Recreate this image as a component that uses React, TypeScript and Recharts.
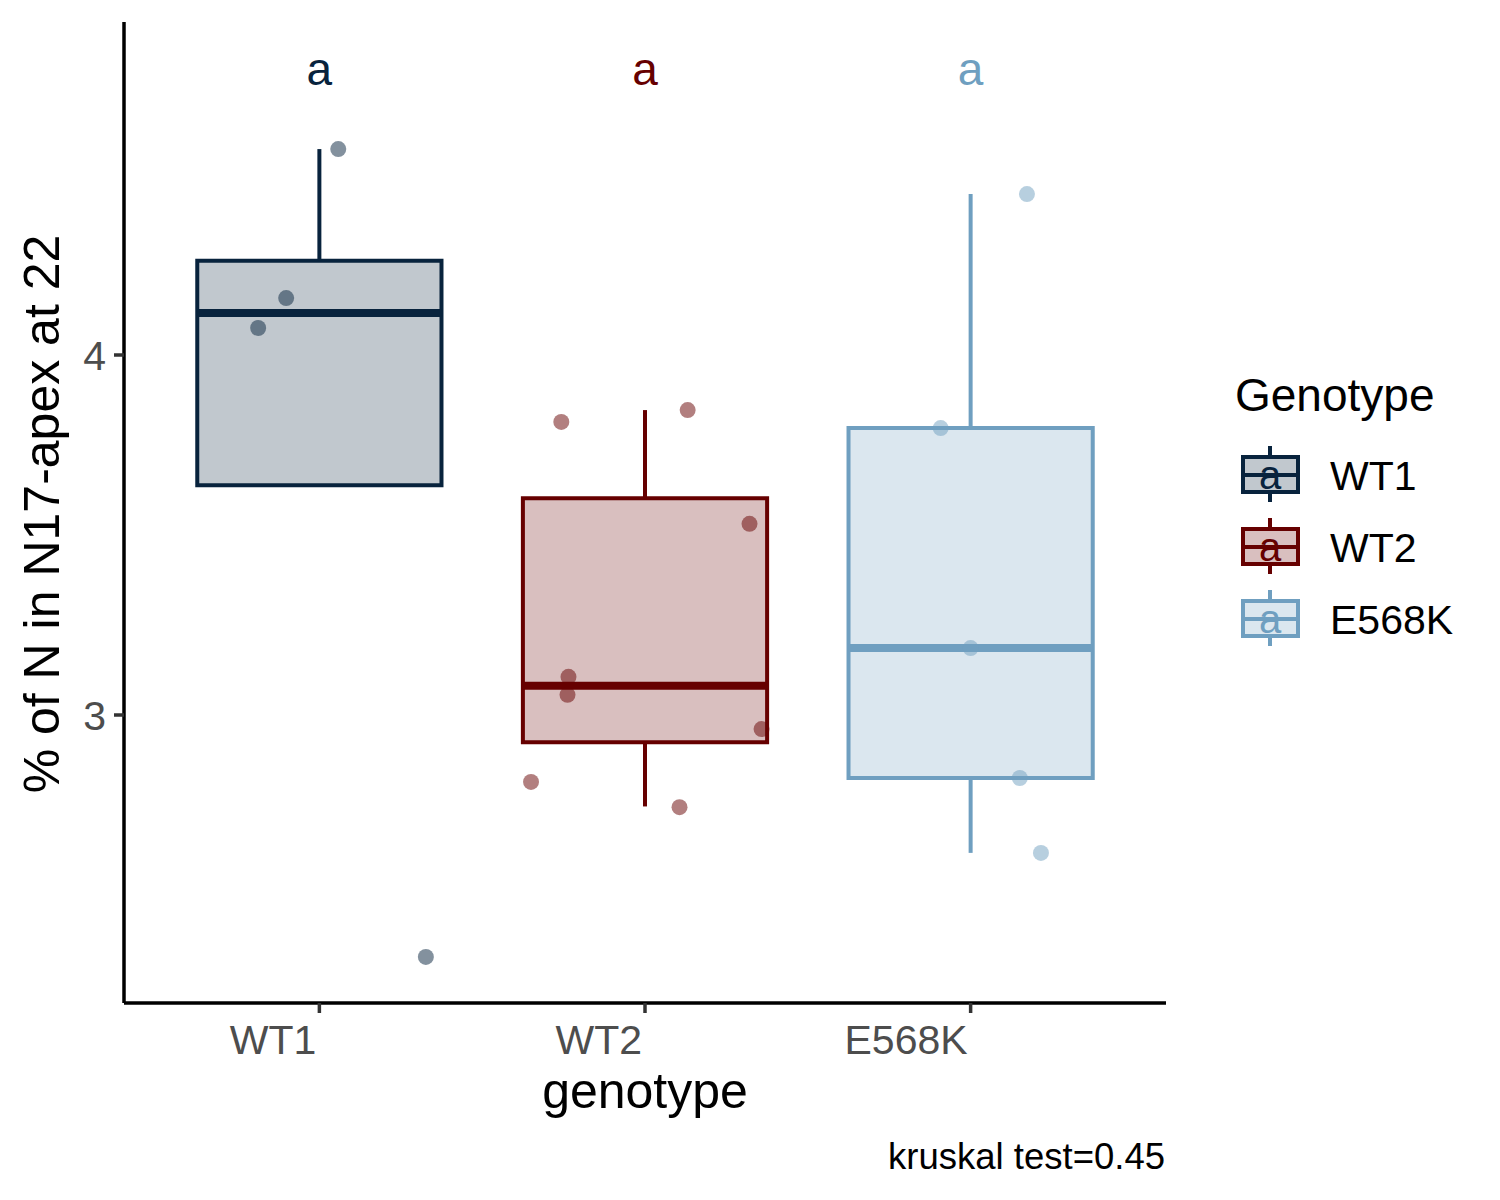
import {
  ComposedChart,
  XAxis,
  YAxis,
  Scatter,
  ReferenceArea,
  ReferenceLine,
} from 'recharts';

const genotypes = ['WT1', 'WT2', 'E568K'];
const colors = ['#08233d', '#660000', '#6f9fc0'];
const letters = ['a', 'a', 'a'];
const letterY = 4.75;

// box statistics
const boxLow = [3.638, 2.924, 2.825];
const boxMedian = [4.117, 3.081, 3.186];
const boxHigh = [4.262, 3.602, 3.797];
const whiskerLow = [3.638, 2.746, 2.617];
const whiskerHigh = [4.572, 3.847, 4.447];

// jittered observations
const wt1Values = [4.572, 4.158, 4.075, 2.328];
const wt1Jitter = [0.058, -0.102, -0.188, 0.327];
const wt2Values = [3.814, 3.847, 3.531, 3.106, 3.056, 2.961, 2.814, 2.744];
const wt2Jitter = [-0.257, 0.131, 0.321, -0.235, -0.238, 0.358, -0.35, 0.106];
const e568kValues = [4.447, 3.797, 3.186, 2.825, 2.617];
const e568kJitter = [0.173, -0.092, 0.0, 0.151, 0.216];

const yTicks = [3, 4];
const caption = 'kruskal test=0.45';

const FONT = '"Liberation Sans", Arial, Helvetica, sans-serif';
const BOX_HALF = 0.375;

const pointGroups = [
  { values: wt1Values, jitter: wt1Jitter },
  { values: wt2Values, jitter: wt2Jitter },
  { values: e568kValues, jitter: e568kJitter },
];

function XTick({ x, y, payload }: any) {
  return (
    <text
      x={x - 3}
      y={y}
      dy="0.72em"
      textAnchor="end"
      fill="#4d4d4d"
      fontSize={41}
      fontFamily={FONT}
    >
      {genotypes[payload.value - 1]}
    </text>
  );
}

function Legend() {
  return (
    <svg
      width={1500}
      height={1200}
      style={{ position: 'absolute', left: 0, top: 0, pointerEvents: 'none' }}
    >
      <text x={1235} y={411} fontSize={46} fontFamily={FONT} fill="#000">
        Genotype
      </text>
      {genotypes.map((g, i) => {
        const cy = 475 + i * 72;
        const c = colors[i];
        return (
          <g key={g}>
            <line x1={1270} x2={1270} y1={cy - 29} y2={cy + 27} stroke={c} strokeWidth={4} />
            <rect x={1243} y={cy - 18} width={55} height={35} fill="#fff" />
            <rect
              x={1243}
              y={cy - 18}
              width={55}
              height={35}
              fill={c}
              fillOpacity={0.25}
              stroke={c}
              strokeWidth={4}
            />
            <line x1={1243} x2={1298} y1={cy} y2={cy} stroke={c} strokeWidth={4} />
            <text
              x={1270}
              y={cy + 14}
              textAnchor="middle"
              fontSize={40}
              fontFamily={FONT}
              fill={c}
            >
              {letters[i]}
            </text>
            <text x={1330} y={cy + 15} fontSize={41} fontFamily={FONT} fill="#000">
              {g}
            </text>
          </g>
        );
      })}
      <text
        x={59}
        y={514}
        transform="rotate(-90 59 514)"
        textAnchor="middle"
        fontSize={50}
        fontFamily={FONT}
        fill="#000"
      >
        % of N in N17-apex at 22
      </text>
      <text x={645} y={1108} textAnchor="middle" fontSize={50} fontFamily={FONT} fill="#000">
        genotype
      </text>
      <text x={1165} y={1169} textAnchor="end" fontSize={36.5} fontFamily={FONT} fill="#000">
        {caption}
      </text>
    </svg>
  );
}

export default function App() {
  return (
    <div
      style={{
        position: 'absolute',
        left: 0,
        top: 0,
        width: 1500,
        height: 1200,
        background: '#fff',
        fontFamily: FONT,
      }}
    >
      <ComposedChart
        width={1500}
        height={1200}
        margin={{ top: 22, right: 334, bottom: 137, left: 0 }}
      >
        <XAxis
          type="number"
          dataKey="x"
          domain={[0.4, 3.6]}
          ticks={[1, 2, 3]}
          allowDataOverflow
          height={60}
          tick={<XTick />}
          tickSize={10}
          tickMargin={11}
          axisLine={{ stroke: '#000', strokeWidth: 3.5 }}
          tickLine={{ stroke: '#333', strokeWidth: 3.5 }}
        />
        <YAxis
          type="number"
          dataKey="y"
          domain={[2.2, 4.925]}
          ticks={yTicks}
          allowDataOverflow
          width={124}
          tickSize={10}
          tickMargin={8}
          tick={{ fill: '#4d4d4d', fontSize: 41, fontFamily: FONT }}
          axisLine={{ stroke: '#000', strokeWidth: 3.5 }}
          tickLine={{ stroke: '#333', strokeWidth: 3.5 }}
        />
        {genotypes.map((g, i) => (
          <ReferenceLine
            key={`wh-${g}`}
            segment={[
              { x: i + 1, y: boxHigh[i] },
              { x: i + 1, y: whiskerHigh[i] },
            ]}
            stroke={colors[i]}
            strokeWidth={4}
          />
        ))}
        {genotypes.map((g, i) => (
          <ReferenceLine
            key={`wl-${g}`}
            segment={[
              { x: i + 1, y: whiskerLow[i] },
              { x: i + 1, y: boxLow[i] },
            ]}
            stroke={colors[i]}
            strokeWidth={4}
          />
        ))}
        {genotypes.map((g, i) => (
          <ReferenceArea
            key={`box-${g}`}
            x1={i + 1 - BOX_HALF}
            x2={i + 1 + BOX_HALF}
            y1={boxLow[i]}
            y2={boxHigh[i]}
            fill={colors[i]}
            fillOpacity={0.25}
            stroke={colors[i]}
            strokeOpacity={1}
            strokeWidth={4}
          />
        ))}
        {genotypes.map((g, i) => (
          <ReferenceLine
            key={`med-${g}`}
            segment={[
              { x: i + 1 - BOX_HALF, y: boxMedian[i] },
              { x: i + 1 + BOX_HALF, y: boxMedian[i] },
            ]}
            stroke={colors[i]}
            strokeWidth={8}
          />
        ))}
        {pointGroups.map((grp, i) => (
          <Scatter
            key={`pts-${genotypes[i]}`}
            data={grp.values.map((v, k) => ({ x: i + 1 + grp.jitter[k], y: v }))}
            isAnimationActive={false}
            shape={(p: any) => (
              <circle cx={p.cx} cy={p.cy} r={8} fill={colors[i]} fillOpacity={0.5} />
            )}
          />
        ))}
        <Scatter
          data={genotypes.map((g, i) => ({ x: i + 1, y: letterY, i }))}
          isAnimationActive={false}
          shape={(p: any) => (
            <text
              x={p.cx}
              y={p.cy}
              textAnchor="middle"
              fontSize={46}
              fontFamily={FONT}
              fill={colors[p.payload?.i ?? p.i ?? 0]}
            >
              {letters[p.payload?.i ?? p.i ?? 0]}
            </text>
          )}
        />
      </ComposedChart>
      <Legend />
    </div>
  );
}
